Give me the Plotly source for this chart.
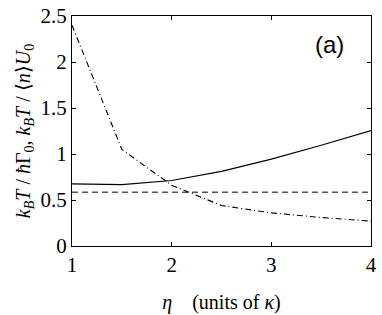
import plotly.graph_objects as go

eta = [1.0, 1.5, 2.0, 2.5, 3.0, 3.5, 4.0]
solid_vals = [0.675, 0.668, 0.712, 0.812, 0.945, 1.095, 1.255]
dashdot_vals = [2.40, 1.05, 0.66, 0.44, 0.36, 0.31, 0.27]
dashed_vals = [0.585, 0.585, 0.585, 0.585, 0.585, 0.585, 0.585]

serif = "Liberation Serif"

fig = go.Figure()
fig.add_trace(go.Scatter(x=eta, y=solid_vals, mode="lines",
                         line=dict(color="black", width=1.2)))
fig.add_trace(go.Scatter(x=eta, y=dashed_vals, mode="lines",
                         line=dict(color="#555555", width=1.5, dash="6px,4px")))
fig.add_trace(go.Scatter(x=eta, y=dashdot_vals, mode="lines",
                         line=dict(color="black", width=1.1, dash="6px,3px,1px,3px")))

fig.add_annotation(x=0.915, y=0.945, xref="paper", yref="paper", text="(a)",
                   showarrow=False, xanchor="right", yanchor="top",
                   font=dict(family="Liberation Sans", size=24, color="black"))

axis_style = dict(showline=True, linecolor="black", linewidth=1.2, mirror="ticks",
                  ticks="inside", ticklen=4, tickcolor="black", showgrid=False,
                  zeroline=False, automargin=False,
                  tickfont=dict(family=serif, size=21, color="black"))

fig.update_xaxes(range=[1, 4], dtick=1, **axis_style,
                 title=dict(text="<i>η</i>    (units of <i>κ</i>)",
                            font=dict(family=serif, size=20, color="black"), standoff=18))
fig.update_yaxes(range=[0, 2.5], dtick=0.5, ticklabelstandoff=0, **axis_style,
                 title=dict(text="<i>k<sub>B</sub>T</i> / <i>ħ</i>Γ<sub>0</sub>, <i>k<sub>B</sub>T</i> / ⟨<i>n</i>⟩<i>U</i><sub>0</sub>",
                            font=dict(family=serif, size=20, color="black"), standoff=4))

fig.update_layout(width=382, height=315, showlegend=False,
                  font=dict(family=serif, color="black"),
                  plot_bgcolor="white", paper_bgcolor="white",
                  margin=dict(l=72, r=11, t=16, b=69))

fig.write_html("out.html", config={"displayModeBar": False},
               post_script="document.body.style.margin='0';"
                           "document.body.style.overflow='hidden';"
                           "document.documentElement.style.overflow='hidden';")
